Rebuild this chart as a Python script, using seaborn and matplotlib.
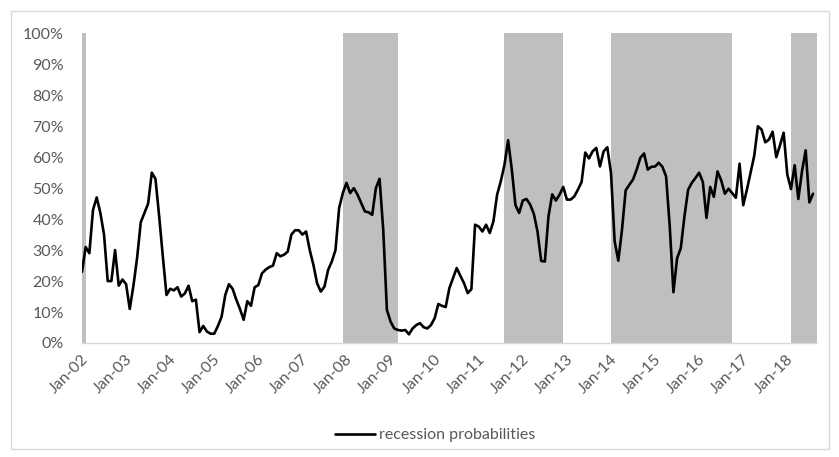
import matplotlib
matplotlib.use("Agg")
import numpy as np
import pandas as pd
import seaborn as sns
import matplotlib.pyplot as plt
from matplotlib.patches import Rectangle
from matplotlib.lines import Line2D
from matplotlib.ticker import PercentFormatter
import matplotlib.transforms as mtrans

# ---- data: monthly recession probabilities (%), Jan-2002 .. Aug-2018 ----
prob = [
    23, 31, 29, 43, 47, 42, 35, 20, 20, 30, 18.5, 20.5,          # 2002
    19, 11, 18.5, 27.5, 39, 42, 45, 55, 53, 41, 28, 15.5,        # 2003
    17.5, 17, 18, 15, 16, 18.5, 13.5, 14, 3.5, 5.5, 3.7, 3,      # 2004
    3, 5.5, 8.5, 15.5, 19, 17.5, 14, 11, 7.5, 13.5, 12, 18,      # 2005
    18.7, 22.5, 23.7, 24.5, 25, 29, 28, 28.5, 29.5, 35, 36.4, 36.4,  # 2006
    35, 36, 30, 25.2, 19.3, 16.6, 18.2, 23.6, 26.3, 30, 43.6, 48.4,  # 2007
    51.7, 48.4, 50, 47.9, 45.2, 42.5, 42.2, 41.4, 50, 53, 36.6, 10.7,  # 2008
    6.9, 4.7, 4.2, 4.0, 4.2, 2.8, 4.7, 5.8, 6.4, 5.1, 4.7, 5.8,  # 2009
    8, 12.6, 12, 11.6, 17.7, 20.9, 24.2, 21.7, 19.3, 16.1, 17.4, 38.2,  # 2010
    37.6, 36, 38.2, 35.5, 39.3, 47.9, 52.2, 57.5, 65.5, 56, 44.5, 42,  # 2011
    46, 46.5, 44.7, 41.7, 36, 26.5, 26.3, 41, 48, 46, 47.9, 50.4,  # 2012
    46.3, 46.3, 47.3, 49.5, 52, 61.5, 59.6, 61.9, 63, 57, 61.9, 63.2,  # 2013
    54.9, 32.8, 26.6, 36.6, 49.3, 51.1, 52.8, 56, 59.8, 61.2, 56, 56.9,  # 2014
    57, 58.2, 56.9, 53.8, 37.6, 16.4, 27.4, 30.6, 40.9, 49.5, 51.7, 53.3,  # 2015
    55, 52, 40.4, 50.4, 47.2, 55.4, 52.5, 48.2, 49.8, 48.4, 46.9, 57.9,  # 2016
    44.5, 49.5, 55, 60.5, 70, 68.9, 64.8, 65.7, 68.2, 60, 63.8, 67.9,  # 2017
    54.4, 49.7, 57.4, 46.5, 55.5, 62.2, 45.4, 48.2,              # 2018
]

# recession indicator (1 = shaded month), same months as prob
recession_months = [0] + list(range(71, 86)) + list(range(115, 131)) \
    + list(range(144, 177)) + list(range(193, 200))

year_labels = ["Jan-02", "Jan-03", "Jan-04", "Jan-05", "Jan-06", "Jan-07",
               "Jan-08", "Jan-09", "Jan-10", "Jan-11", "Jan-12", "Jan-13",
               "Jan-14", "Jan-15", "Jan-16", "Jan-17", "Jan-18"]

months = np.arange(len(prob))
recession = np.array([100 if m in recession_months else 0 for m in months])
df = pd.DataFrame({"month": months, "prob": prob})

# ---- style ----
sns.set_style("white")
plt.rcParams["font.family"] = ["Lato", "DejaVu Sans"]
TXT = "#595959"
GRID = "#D9D9D9"
FS = 11.5

W, H = 839, 457
fig = plt.figure(figsize=(W / 100, H / 100), dpi=100)
left, right, top, bottom = 82, 816.7, 33.3, 343
ax = fig.add_axes([left / W, 1 - bottom / H, (right - left) / W, (bottom - top) / H])

ax.bar(months, recession, width=1.0, align="edge", color="#BFBFBF",
       linewidth=0, zorder=1)
sns.lineplot(data=df, x="month", y="prob", color="black", linewidth=1.9,
             ax=ax, legend=False, zorder=3)

ax.set_xlim(0, len(prob))
ax.set_ylim(0, 100)
ax.set_xlabel("")
ax.set_ylabel("")

ax.set_yticks(np.arange(0, 101, 10))
ax.yaxis.set_major_formatter(PercentFormatter(100, decimals=0))
ax.set_xticks(np.arange(0, 12 * len(year_labels), 12))
ax.set_xticklabels(year_labels)

for s in ["left", "top", "right"]:
    ax.spines[s].set_visible(False)
ax.spines["bottom"].set_color(GRID)
ax.spines["bottom"].set_linewidth(1.0)
ax.spines["bottom"].set_zorder(4)

ax.tick_params(axis="y", length=0, pad=13, labelsize=FS, labelcolor=TXT)
ax.tick_params(axis="x", length=4, width=1, color=GRID, direction="out",
               pad=6, labelsize=FS, labelcolor=TXT)
offset = mtrans.ScaledTranslation(4 / 100, 0, fig.dpi_scale_trans)
for lbl in ax.get_xticklabels():
    lbl.set_rotation(45)
    lbl.set_ha("right")
    lbl.set_va("center")
    lbl.set_rotation_mode("anchor")
    lbl.set_transform(lbl.get_transform() + offset)

handle = Line2D([], [], color="black", linewidth=1.9)
fig.legend([handle], ["recession probabilities"], loc="center",
           bbox_to_anchor=(435 / W, 1 - 435 / H), frameon=False,
           fontsize=FS, handlelength=2.5, handletextpad=0.25, labelcolor=TXT)

fig.add_artist(Rectangle((11 / W, 1 - 449 / H), (829 - 11) / W, (449 - 11) / H,
                         transform=fig.transFigure, fill=False,
                         edgecolor=GRID, linewidth=1.0))

fig.savefig("out.png", dpi=100)
